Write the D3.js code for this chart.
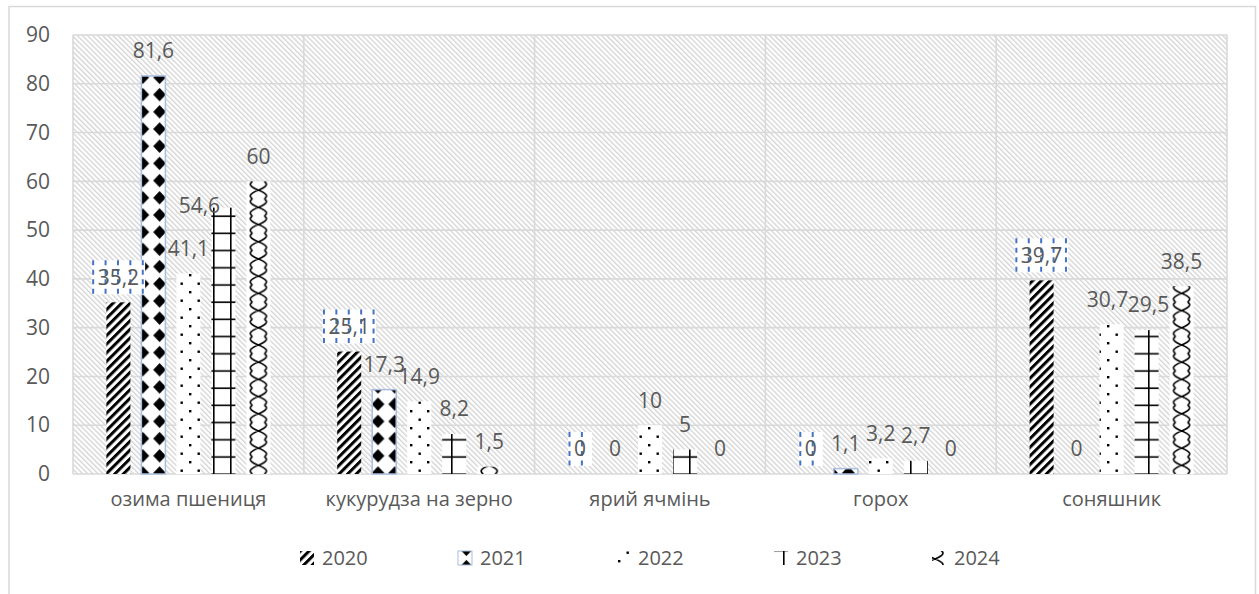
<!DOCTYPE html>
<html>
<head>
<meta charset="utf-8">
<script src="https://cdn.jsdelivr.net/npm/d3@7"></script>
<style>
  html, body { margin: 0; padding: 0; background: #ffffff; }
  svg { display: block; }
  text { font-family: "Open Sans", "Noto Sans", sans-serif; fill: #595959; }
</style>
</head>
<body>
<svg id="chart" width="1259" height="594"></svg>
<script>
// Crop categories and yearly values
const categories = ["озима пшениця", "кукурудза на зерно", "ярий ячмінь", "горох", "соняшник"];
const years = ["2020", "2021", "2022", "2023", "2024"];
const values2020 = [35.2, 25.1, 0, 0, 39.7];
const values2021 = [81.6, 17.3, 0, 1.1, 0];
const values2022 = [41.1, 14.9, 10, 3.2, 30.7];
const values2023 = [54.6, 8.2, 5, 2.7, 29.5];
const values2024 = [60, 1.5, 0, 0, 38.5];
const yTicks = [0, 10, 20, 30, 40, 50, 60, 70, 80, 90];

const seriesValues = [values2020, values2021, values2022, values2023, values2024];

const svg = d3.select("#chart");
const plot = { left: 73, top: 35, right: 1227, bottom: 474 };

const fmt = v => String(v).replace(".", ",");

// ---------- scales ----------
const x0 = d3.scaleBand().domain(categories).range([plot.left, plot.right]).padding(0);
const x1 = d3.scaleBand().domain(years).range([0, x0.bandwidth()])
  .paddingInner(0.314).paddingOuter(0.954);
const y = d3.scaleLinear().domain([0, 90]).range([plot.bottom, plot.top]);
const bw = x1.bandwidth();

// ---------- patterns ----------
const defs = svg.append("defs");

// plot background: light gray downward hatch
const bg = defs.append("pattern").attr("id", "bgHatch")
  .attr("patternUnits", "userSpaceOnUse").attr("width", 3.6).attr("height", 3.6)
  .attr("patternTransform", "rotate(-45)");
bg.append("rect").attr("width", 3.6).attr("height", 3.6).attr("fill", "#ffffff");
bg.append("rect").attr("width", 1.3).attr("height", 3.6).attr("fill", "#d3d3d3");

// 2020: wide upward diagonal stripes
const p0 = defs.append("pattern").attr("id", "pat0")
  .attr("patternUnits", "userSpaceOnUse").attr("width", 6.1).attr("height", 6.1)
  .attr("patternTransform", "rotate(45)");
p0.append("rect").attr("width", 6.1).attr("height", 6.1).attr("fill", "#ffffff");
p0.append("rect").attr("width", 3.0).attr("height", 6.1).attr("fill", "#000000");

// 2021: solid diamonds
const p1 = defs.append("pattern").attr("id", "pat1")
  .attr("patternUnits", "userSpaceOnUse").attr("width", 16.8).attr("height", 17.2);
p1.append("rect").attr("width", 16.8).attr("height", 17.2).attr("fill", "#ffffff");
p1.append("path").attr("d", "M8.4,2.0 L14.8,8.6 L8.4,15.2 L2.0,8.6 Z").attr("fill", "#000000");

// 2022: sparse staggered dots
const p2 = defs.append("pattern").attr("id", "pat2")
  .attr("patternUnits", "userSpaceOnUse").attr("width", 17).attr("height", 17);
p2.append("rect").attr("width", 17).attr("height", 17).attr("fill", "#ffffff");
p2.append("rect").attr("x", 2).attr("y", 2).attr("width", 2.4).attr("height", 2.4).attr("fill", "#000000");
p2.append("rect").attr("x", 10.5).attr("y", 10.5).attr("width", 2.4).attr("height", 2.4).attr("fill", "#000000");

// 2023: grid of thin lines
const p3 = defs.append("pattern").attr("id", "pat3")
  .attr("patternUnits", "userSpaceOnUse").attr("width", 17).attr("height", 17.2);
p3.append("rect").attr("width", 17).attr("height", 17.2).attr("fill", "#ffffff");
p3.append("rect").attr("x", 9).attr("y", 0).attr("width", 1.6).attr("height", 17.2).attr("fill", "#000000");
p3.append("rect").attr("x", 0).attr("y", 9).attr("width", 17).attr("height", 1.6).attr("fill", "#000000");

// 2024: braided wave, one tile column centred on each bar
function braidPattern(id, x0pos, width) {
  const p = defs.append("pattern").attr("id", id)
    .attr("patternUnits", "userSpaceOnUse")
    .attr("x", x0pos).attr("y", plot.bottom)
    .attr("width", width).attr("height", 17.2);
  const c = width / 2;
  p.append("rect").attr("width", width).attr("height", 17.2).attr("fill", "#ffffff");
  p.append("path")
    .attr("d", `M${c - 6},0 Q${c - 12},4 ${c},8.6 Q${c + 12},13 ${c + 6},17.2 ` +
               `M${c + 6},0 Q${c + 12},4 ${c},8.6 Q${c - 12},13 ${c - 6},17.2`)
    .attr("fill", "none").attr("stroke", "#000000").attr("stroke-width", 1.6);
}
categories.forEach((c, ci) => braidPattern(`pat4_${ci}`, x0(c) + x1("2024"), bw));

const strokes = [null, "#a9bde0", null, null, null];
const fillFor = (si, ci) => si === 4 ? `url(#pat4_${ci})` : `url(#pat${si})`;

// outer chart frame
svg.append("rect").attr("x", 9).attr("y", 6.5).attr("width", 1246.5).attr("height", 600)
  .attr("fill", "#ffffff").attr("stroke", "#d9d9d9").attr("stroke-width", 1.5);

// plot background
svg.append("rect").attr("x", plot.left).attr("y", plot.top)
  .attr("width", plot.right - plot.left).attr("height", plot.bottom - plot.top)
  .attr("fill", "url(#bgHatch)");

// horizontal gridlines
svg.append("g").selectAll("line").data(yTicks).join("line")
  .attr("x1", plot.left).attr("x2", plot.right)
  .attr("y1", d => y(d)).attr("y2", d => y(d))
  .attr("stroke", "#d9d9d9").attr("stroke-width", 1.6);

// vertical gridlines at category boundaries
const bounds = categories.map(c => x0(c)).concat([plot.right]);
svg.append("g").selectAll("line").data(bounds).join("line")
  .attr("x1", d => d).attr("x2", d => d)
  .attr("y1", plot.top).attr("y2", plot.bottom)
  .attr("stroke", "#d9d9d9").attr("stroke-width", 1.6);

// y axis labels
const yAxis = d3.axisLeft(y).tickValues(yTicks).tickSize(0).tickPadding(23);
const yg = svg.append("g").attr("transform", `translate(${plot.left},0)`).call(yAxis);
yg.select(".domain").remove();
yg.selectAll("text").attr("font-size", 21).style("fill", "#595959")
  .style("font-family", "'Open Sans', sans-serif");

// x axis category labels
const xAxis = d3.axisBottom(x0).tickSize(0).tickPadding(18);
const xg = svg.append("g").attr("transform", `translate(0,${plot.bottom})`).call(xAxis);
xg.select(".domain").remove();
xg.selectAll("text").attr("font-size", 20).style("fill", "#595959")
  .style("font-family", "'Open Sans', sans-serif");

// ---------- bars ----------
const barData = [];
categories.forEach((c, ci) => {
  years.forEach((yr, si) => {
    barData.push({ cat: c, ci, year: yr, si, value: seriesValues[si][ci] });
  });
});

svg.append("g").selectAll("rect").data(barData).join("rect")
  .attr("x", d => x0(d.cat) + x1(d.year))
  .attr("y", d => y(d.value))
  .attr("width", bw)
  .attr("height", d => y(0) - y(d.value))
  .attr("fill", d => fillFor(d.si, d.ci))
  .attr("stroke", d => (d.value > 0 && strokes[d.si]) ? strokes[d.si] : "none")
  .attr("stroke-width", 1.5);

// ---------- data labels ----------
// labels that were moved by hand beside their bars
const labelNudge = {
  "озима пшениця|2023": [-24, 23],
  "соняшник|2022": [-4, 0],
  "соняшник|2023": [2, 0]
};

const labelG = svg.append("g");
barData.forEach(d => {
  const nudge = labelNudge[d.cat + "|" + d.year] || [0, 0];
  const cx = x0(d.cat) + x1(d.year) + bw / 2 + nudge[0];
  const cy = y(d.value) - 25 + nudge[1];
  const g = labelG.append("g");
  const t = g.append("text")
    .attr("x", cx).attr("y", cy).attr("dy", "0.35em")
    .attr("text-anchor", "middle").attr("font-size", 21)
    .text(fmt(d.value));
  if (d.si === 0) {
    // 2020 labels sit in a white box with blue dashed vertical strokes
    const w = t.node().getComputedTextLength() + 12;
    const h = 34;
    const bx = cx - w / 2, by = cy - h / 2;
    g.insert("rect", "text").attr("x", bx).attr("y", by).attr("width", w).attr("height", h)
      .attr("fill", "#ffffff");
    const xs = d3.range(bx + 1.5, bx + w, 12.4);
    g.insert("g", "text").selectAll("line").data(xs).join("line")
      .attr("x1", v => v).attr("x2", v => v)
      .attr("y1", by).attr("y2", by + h)
      .attr("stroke", "#4472c4").attr("stroke-width", 2)
      .attr("stroke-dasharray", "5,4.5");
  }
});

// ---------- legend ----------
const legendX = d3.scaleLinear().domain([0, 4]).range([300, 932]);
braidPattern("pat4_legend", legendX(4) - 5, 24);
const legendFill = (i) => i === 4 ? "url(#pat4_legend)" : `url(#pat${i})`;
const legend = svg.append("g").selectAll("g").data(years).join("g")
  .attr("transform", (d, i) => `translate(${legendX(i)},558)`);
legend.append("rect").attr("x", 0).attr("y", -7).attr("width", 14).attr("height", 14)
  .attr("fill", (d, i) => legendFill(i))
  .attr("stroke", (d, i) => strokes[i] || "none").attr("stroke-width", 1);
legend.append("text").attr("x", 22).attr("dy", "0.35em").attr("font-size", 20).text(d => d);
</script>
</body>
</html>
